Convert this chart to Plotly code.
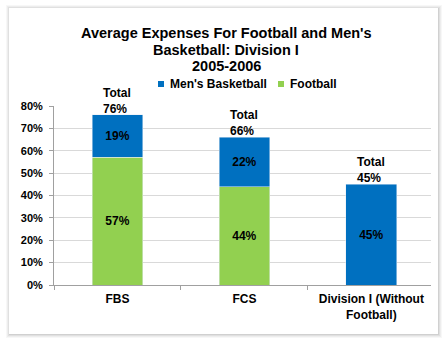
import plotly.graph_objects as go

categories = ["FBS", "FCS", "Division I (Without<br>Football)"]
football = [57, 44, 0]
basketball = [19, 22, 45]
y_ticks = [0, 10, 20, 30, 40, 50, 60, 70, 80]
title_lines = ["Average Expenses For Football and Men's", "Basketball: Division I", "2005-2006"]
series_names = ["Men's Basketball", "Football"]

BLUE = "#0070C0"
GREEN = "#92D050"
FONT = "Liberation Sans, Arial, sans-serif"

W, H = 448, 344
L, R, T, B = 54, 17, 106, 59
PW, PH = W - L - R, H - T - B


def px(x):
    return (x - L) / PW


def py(y):
    return (H - B - y) / PH


fig = go.Figure()
fig.add_trace(go.Bar(
    x=categories, y=football, name=series_names[1], marker_color=GREEN,
    text=[f"<b>{v}%</b>" if v else "" for v in football],
    textposition="inside", insidetextanchor="middle", constraintext="none",
    textfont=dict(family=FONT, size=12, color="black"), width=0.4,
))
fig.add_trace(go.Bar(
    x=categories, y=basketball, name=series_names[0], marker_color=BLUE,
    text=[f"<b>{v}%</b>" if v else "" for v in basketball],
    textposition="inside", insidetextanchor="middle", constraintext="none",
    textfont=dict(family=FONT, size=12, color="black"), width=0.4,
))

shapes = []
# frame shadow
for i, a in [(4, 0.03), (3, 0.04), (2, 0.05), (1, 0.07)]:
    shapes.append(dict(type="rect", xref="paper", yref="paper", layer="below",
                       x0=px(9 - i + 1), x1=px(438 + i), y0=py(334 + i), y1=py(8 - i + 1),
                       fillcolor=f"rgba(0,0,0,{a})", line=dict(width=0)))
shapes.append(dict(type="rect", xref="paper", yref="paper", layer="below",
                   x0=px(9), x1=px(438), y0=py(334), y1=py(8),
                   fillcolor="white", line=dict(width=0)))
# legend squares
for x0, c in [(158, BLUE), (278, GREEN)]:
    shapes.append(dict(type="rect", xref="paper", yref="paper",
                       x0=px(x0), x1=px(x0 + 6), y0=py(87), y1=py(81),
                       fillcolor=c, line=dict(width=0)))

annotations = []
for line, yc in zip(title_lines, [33, 49.5, 66]):
    annotations.append(dict(text=f"<b>{line}</b>", xref="paper", yref="paper",
                            x=px(226), y=py(yc), xanchor="center", yanchor="middle",
                            showarrow=False, font=dict(family=FONT, size=14.5, color="black")))
for name, x0 in [(series_names[0], 167.5), (series_names[1], 287.5)]:
    annotations.append(dict(text=f"<b>{name}</b>", xref="paper", yref="paper",
                            x=px(x0), y=py(84), xanchor="left", yanchor="middle",
                            showarrow=False, font=dict(family=FONT, size=12, color="black")))
for cat, f, b in zip(categories, football, basketball):
    tot = f + b
    annotations.append(dict(text=f"<b>Total<br>{tot}%</b>", x=cat, y=tot, xref="x", yref="y",
                            xanchor="center", yanchor="bottom", align="left", yshift=-3,
                            showarrow=False, font=dict(family=FONT, size=12, color="black")))

fig.update_layout(
    width=W, height=H, margin=dict(l=L, r=R, t=T, b=B),
    barmode="stack", showlegend=False,
    paper_bgcolor="white", plot_bgcolor="rgba(0,0,0,0)",
    shapes=shapes, annotations=annotations,
    font=dict(family=FONT, color="black"),
)
fig.update_xaxes(range=[-0.5, 2.47], showgrid=False, showline=True, linecolor="#A0A0A0",
                 ticks="outside", tickson="boundaries", ticklen=4, tickcolor="#A0A0A0",
                 tickfont=dict(family=FONT, size=12, color="black"),
                 tickprefix="<b>", ticksuffix="</b>", ticklabelstandoff=3)
fig.update_yaxes(range=[0, 80], tickvals=y_ticks, ticktext=[f"<b>{v}%</b>" for v in y_ticks],
                 showgrid=True, gridcolor="#D9D9D9", gridwidth=1,
                 showline=True, linecolor="#A0A0A0", ticks="outside", ticklen=4,
                 tickcolor="#A0A0A0", tickfont=dict(family=FONT, size=11, color="black"),
                 zeroline=False, ticklabelstandoff=4)

fig.write_html("out.html")
